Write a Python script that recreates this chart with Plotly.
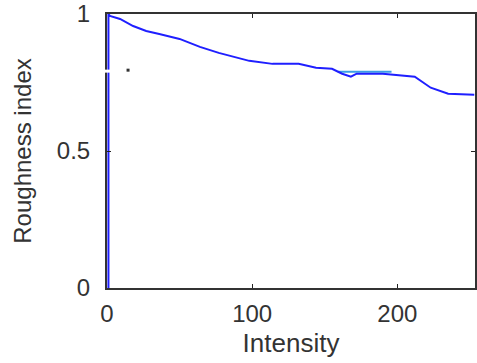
import plotly.graph_objects as go

# Roughness index versus intensity
intensity = [1, 1, 2, 9, 18, 27, 36, 50, 64, 77, 98, 114, 132, 144, 155, 158,
             162, 168, 172, 190, 205, 212, 223, 235, 253]
roughness = [0.0, 1.0, 0.993, 0.982, 0.956, 0.938, 0.927, 0.909, 0.880, 0.858,
             0.829, 0.818, 0.818, 0.804, 0.800, 0.793,
             0.782, 0.771, 0.782, 0.782, 0.775, 0.771, 0.731, 0.709, 0.705]

# Second estimate over the mid-range plateau
plateau_x = [159, 196]
plateau_y = [0.789, 0.789]

# Stray point near the start
stray_x = [14.5]
stray_y = [0.795]

x_ticks = [0, 100, 200]
y_ticks = [0, 0.5, 1]
y_tick_text = ["0", "0.5", "1"]

tick_font = dict(family="Liberation Sans, Arial, sans-serif", size=24, color="#333333")
xtitle_font = dict(family="Liberation Sans, Arial, sans-serif", size=26, color="#333333")
ytitle_font = dict(family="Liberation Sans, Arial, sans-serif", size=24, color="#333333")

fig = go.Figure()
fig.add_trace(go.Scatter(x=plateau_x, y=plateau_y, mode="lines",
                         line=dict(color="#3a9ee6", width=2), showlegend=False))
fig.add_trace(go.Scatter(x=intensity, y=roughness, mode="lines",
                         line=dict(color="#1f1fff", width=2), showlegend=False))
fig.add_trace(go.Scatter(x=stray_x, y=stray_y, mode="markers",
                         marker=dict(color="#333333", size=3, symbol="square"),
                         showlegend=False))

axis_common = dict(showgrid=False, zeroline=False, showline=True, linecolor="#333333",
                   linewidth=2, mirror="ticks", ticks="inside", ticklen=4,
                   tickcolor="#222222", tickfont=tick_font, ticklabeloverflow="allow")

fig.update_layout(
    width=477, height=363,
    margin=dict(l=107, r=0, t=13, b=75),
    paper_bgcolor="white", plot_bgcolor="white",
    xaxis=dict(range=[0, 253.5], tickvals=x_ticks, ticklabelstandoff=3,
               title=dict(text="Intensity", font=xtitle_font, standoff=8), **axis_common),
    yaxis=dict(range=[0, 1], tickvals=y_ticks, ticktext=y_tick_text, ticklabelstandoff=10,
               title=dict(text="Roughness index", font=ytitle_font, standoff=18), **axis_common),
    shapes=[dict(type="rect", xref="paper", yref="y", x0=-0.008, x1=0.012,
                 y0=0.786, y1=0.797, fillcolor="white", line=dict(width=0),
                 layer="above")],
)

fig.write_html("out.html")
